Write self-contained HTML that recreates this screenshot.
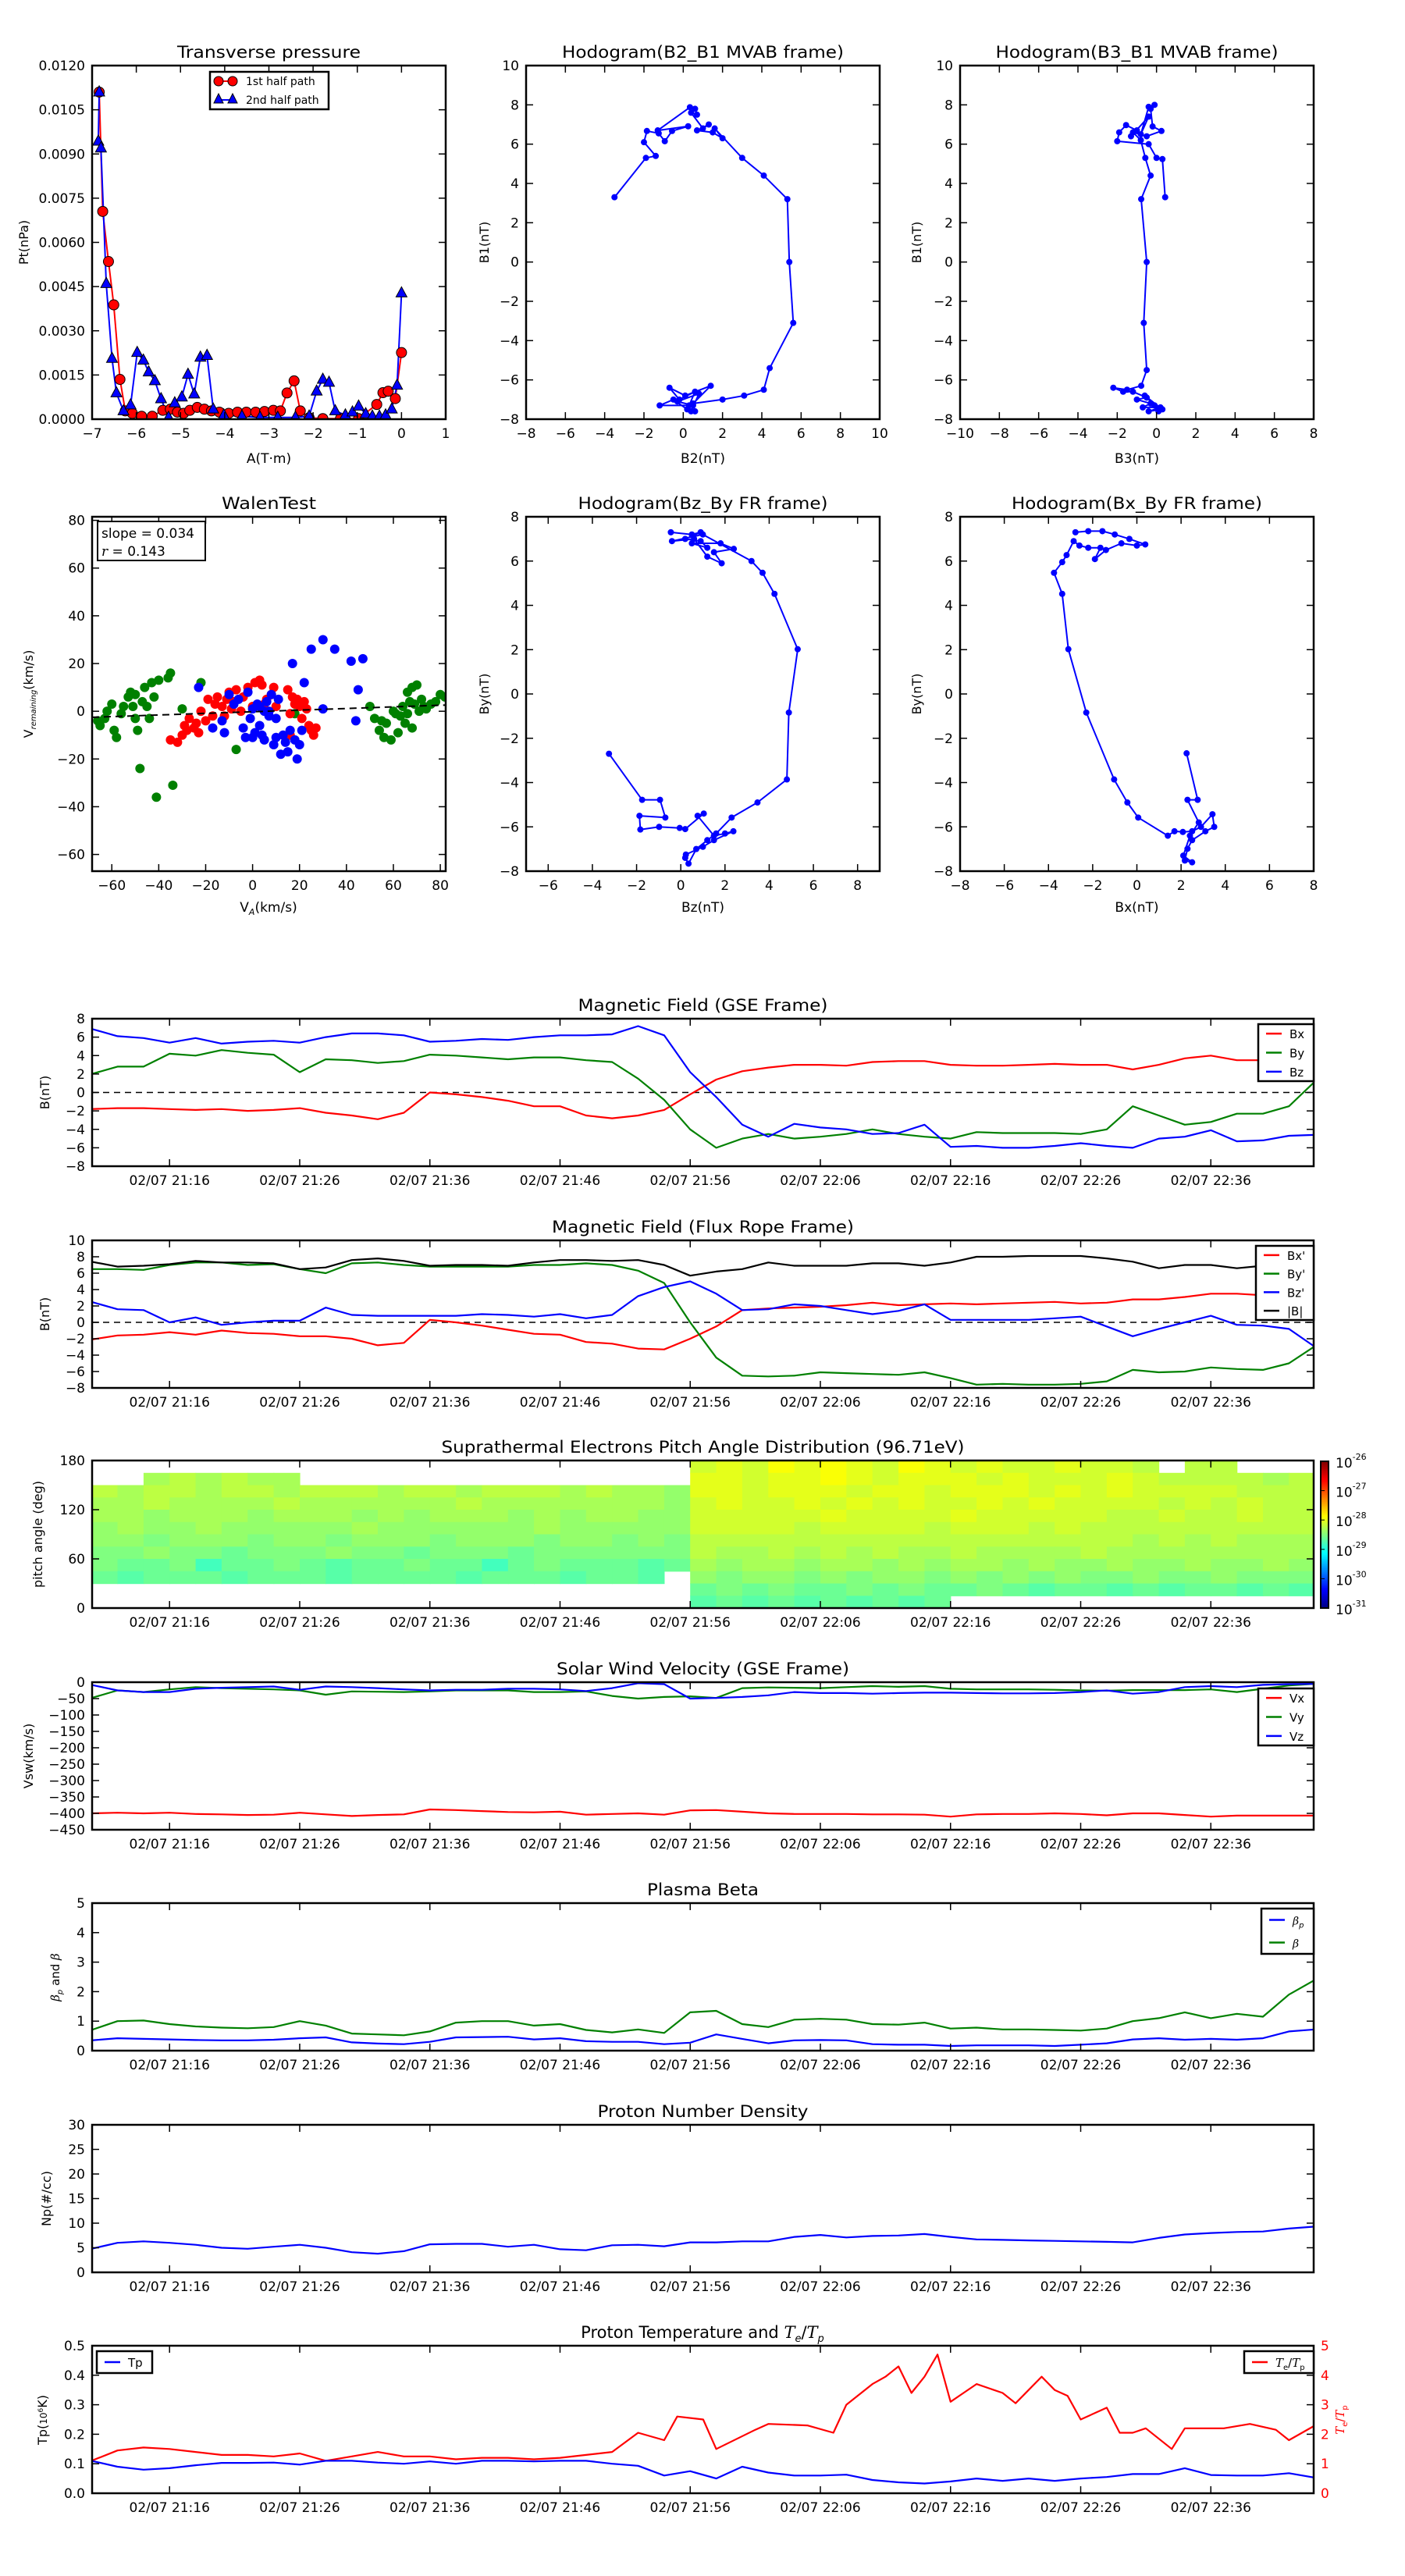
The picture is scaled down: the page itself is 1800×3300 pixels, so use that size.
<!DOCTYPE html>
<html><head><meta charset="utf-8"><title>Flux rope analysis</title>
<style>
html,body{margin:0;padding:0;background:#fff;}
svg{display:block;font-family:"DejaVu Sans","Liberation Sans",sans-serif;}
</style></head>
<body>
<svg id="fig" width="1800" height="3300" viewBox="0 0 1800 3300"></svg>
<script>
// ---------- DATA ----------
const pA1 = [-6.84,-6.76,-6.63,-6.51,-6.37,-6.25,-6.09,-5.88,-5.64,-5.4,-5.23,-5.07,-4.93,-4.79,-4.62,-4.46,-4.3,-4.12,-3.91,-3.71,-3.51,-3.3,-3.1,-2.9,-2.74,-2.59,-2.43,-2.29,-2.09,-1.78,-1.38,-0.97,-0.56,-0.42,-0.3,-0.14,0.0];
const pP1 = [0.0111,0.00705,0.00535,0.00388,0.00135,0.00028,0.0002,0.0001,0.0001,0.0003,0.00034,0.00024,0.0002,0.0003,0.0004,0.00034,0.00028,0.00024,0.0002,0.00024,0.00024,0.00024,0.00026,0.0003,0.00028,0.00089,0.0013,0.00028,0.00005,0.00002,0.00002,0.00002,0.0005,0.0009,0.00095,0.0007,0.00226];
const pA2 = [-6.84,-6.86,-6.8,-6.68,-6.55,-6.45,-6.29,-6.13,-5.98,-5.84,-5.72,-5.58,-5.44,-5.27,-5.13,-4.97,-4.83,-4.69,-4.55,-4.4,-4.26,-4.02,-3.61,-3.2,-2.8,-2.4,-2.09,-1.92,-1.78,-1.64,-1.5,-1.27,-1.11,-0.97,-0.81,-0.66,-0.5,-0.36,-0.22,-0.1,0.0];
const pP2 = [0.0111,0.00943,0.0092,0.0046,0.00206,0.00089,0.00028,0.00048,0.00226,0.002,0.0016,0.0013,0.00069,0.00006,0.00055,0.00075,0.00152,0.00085,0.0021,0.00216,0.00034,0.00014,0.0001,0.00006,0.00006,0.00006,0.0001,0.00095,0.00135,0.00125,0.00028,0.00014,0.00024,0.00044,0.00018,0.0001,0.0001,0.00014,0.00034,0.00115,0.00428];
const hB2 = [-3.5,-1.9,-1.4,-2.0,-1.85,-1.25,-0.94,-0.57,0.25,-1.3,0.34,0.6,0.7,0.4,1.0,1.3,0.7,1.5,2.0,1.6,3.0,4.1,5.3,5.4,5.6,4.4,4.1,3.1,2.0,0.5,1.4,0.1,-0.7,-0.2,0.6,0.3,-1.2,-0.5,0.2,0.6,0.5,-0.3,0.8,0.4];
const hB1a = [3.3,5.3,5.4,6.1,6.67,6.55,6.15,6.67,6.91,6.7,7.88,7.8,7.5,7.6,6.8,7.0,6.7,6.6,6.3,6.8,5.3,4.4,3.2,0.0,-3.1,-5.4,-6.5,-6.8,-7.0,-7.2,-6.3,-6.8,-6.4,-7.0,-6.6,-7.3,-7.3,-7.0,-7.5,-7.6,-7.3,-7.1,-6.7,-7.6];
const hB3 = [0.44,0.3,0.0,-0.4,-2.0,-1.9,-1.55,-1.0,-1.3,-0.4,-0.8,-0.4,-0.1,-0.3,-0.2,0.25,-0.5,-1.2,-0.8,-0.57,-0.3,-0.78,-0.5,-0.65,-0.5,-0.78,-1.5,-2.2,-1.7,-1.2,-0.5,-1.0,-0.3,-0.7,0.2,-0.4,0.3,-0.6,-0.1,0.1];
const hB1b = [3.3,5.24,5.3,6.0,6.15,6.6,6.97,6.7,6.4,7.4,6.5,7.9,8.0,7.8,6.9,6.67,6.4,6.6,6.2,5.3,4.4,3.2,0.0,-3.1,-5.5,-6.3,-6.5,-6.4,-6.6,-6.6,-6.9,-7.0,-7.2,-7.4,-7.4,-7.6,-7.5,-6.8,-7.3,-7.6];
const wGx = [-66,-65,-63,-62,-60,-59,-58,-56,-55,-53,-52,-51,-50,-50,-49,-48,-47,-46,-45,-44,-43,-42,-41,-40,-36,-35,-34,-30,-22,-7,18,50,52,54,55,56,57,59,60,61,62,63,64,65,66,66,67,68,68,69,70,71,72,73,74,76,78,80,82];
const wGy = [-4,-6,-3,0,3,-8,-11,-1,2,6,8,2,-3,7,-8,-24,4,10,2,-3,12,6,-36,13,14,16,-31,1,12,-16,-1,2,-3,-8,-4,-11,-5,-12,0,-1,-9,-2,2,-5,-1,8,4,-7,10,3,11,0,5,2,1,3,4,7,6];
const wRx = [-35,-32,-30,-29,-28,-27,-25,-24,-23,-22,-20,-19,-17,-16,-15,-13,-12,-11,-10,-9,-8,-7,-5,-4,-2,0,1,3,4,5,6,8,9,10,15,16,17,18,19,20,21,22,23,24,25,26,27,16];
const wRy = [-12,-13,-10,-6,-8,-3,-7,-5,-9,0,-4,5,-2,3,6,2,-2,5,8,1,4,9,0,6,10,2,12,13,11,3,5,7,10,2,9,-1,6,3,5,2,-3,4,1,-6,-8,-10,-7,-10];
const wBx = [-23,-17,-13,-12,-10,-8,-6,-4,-2,-1,0,1,2,3,4,5,6,7,8,9,10,11,12,13,14,15,16,17,18,19,20,21,22,25,30,35,42,44,45,47,30,10,5,-3,0,3,7];
const wBy = [10,-7,-4,-9,7,3,5,-7,8,-3,-11,-9,3,-6,-10,0,4,-2,7,-14,-3,5,-18,-10,-13,-17,-8,20,-12,-20,-14,-8,12,26,30,26,21,-4,9,22,1,-11,-12,-11,1,2,0];
const wSlope = [0.034];
const wIntercept = [-0.2];
const fBz = [-0.45,0.5,0.9,0.2,0.9,1.2,0.5,1.8,2.4,1.5,1.85,1.2,0.6,-0.4,1.0,3.2,3.7,4.24,5.29,4.89,4.8,3.47,2.3,1.6,1.2,0.7,0.35,0.2,0.23,1.0,1.5,2.38,2.0,1.5,0.76,1.04,0.2,-0.05,-0.98,-1.83,-1.87,-0.7,-0.94,-1.75,-3.25];
const fBy1 = [7.3,7.2,7.3,7.0,6.9,6.6,6.8,6.8,6.55,6.4,5.9,6.2,7.0,6.9,7.2,6.0,5.47,4.52,2.02,-0.84,-3.86,-4.9,-5.58,-6.3,-6.6,-7.0,-7.66,-7.4,-7.25,-6.9,-6.6,-6.2,-6.3,-6.4,-5.5,-5.4,-6.1,-6.05,-6.0,-6.12,-5.5,-5.58,-4.78,-4.78,-2.7];
const fBx = [-2.78,-2.2,-1.56,-1.0,-0.34,0.38,0.0,-0.7,-1.4,-1.9,-1.65,-2.2,-2.6,-2.86,-3.18,-3.38,-3.75,-3.38,-3.1,-2.29,-1.03,-0.43,0.06,1.4,1.7,2.08,2.5,2.9,3.42,3.5,3.1,2.5,2.29,2.17,2.5,2.1,2.4,2.8,2.29,2.75,2.25];
const fBy2 = [7.3,7.35,7.35,7.2,7.0,6.75,6.7,6.8,6.5,6.09,6.6,6.6,6.7,6.9,6.27,5.95,5.47,4.52,2.02,-0.84,-3.86,-4.9,-5.58,-6.4,-6.2,-6.23,-6.2,-6.0,-5.43,-6.0,-6.2,-6.6,-6.99,-7.52,-7.6,-7.3,-6.4,-5.8,-4.78,-4.78,-2.68];
const tGrid = [0,2,4,6,8,10,12,14,16,18,20,22,24,26,28,30,32,34,36,38,40,42,44,46,48,50,52,54,56,58,60,62,64,66,68,70,72,74,76,78,80,82,84,86,88,90,92,94];
const timeTicks = [6,16,26,36,46,56,66,76,86];
const timeLabels = ['02/07 21:16','02/07 21:26','02/07 21:36','02/07 21:46','02/07 21:56','02/07 22:06','02/07 22:16','02/07 22:26','02/07 22:36'];
const gseBx = [-1.8,-1.7,-1.7,-1.8,-1.9,-1.8,-2.0,-1.9,-1.7,-2.2,-2.5,-2.9,-2.2,0.0,-0.2,-0.5,-0.9,-1.5,-1.5,-2.5,-2.8,-2.5,-1.9,-0.2,1.4,2.3,2.7,3.0,3.0,2.9,3.3,3.4,3.4,3.0,2.9,2.9,3.0,3.1,3.0,3.0,2.5,3.0,3.7,4.0,3.5,3.5,3.2,1.3];
const gseBy = [2.0,2.8,2.8,4.2,4.0,4.6,4.3,4.1,2.2,3.6,3.5,3.2,3.4,4.1,4.0,3.8,3.6,3.8,3.8,3.5,3.3,1.5,-0.8,-4.0,-6.0,-5.0,-4.5,-5.0,-4.8,-4.5,-4.0,-4.5,-4.8,-5.0,-4.3,-4.4,-4.4,-4.4,-4.5,-4.0,-1.5,-2.5,-3.5,-3.2,-2.3,-2.3,-1.5,1.2];
const gseBz = [6.9,6.1,5.9,5.4,5.9,5.3,5.5,5.6,5.4,6.0,6.4,6.4,6.2,5.5,5.6,5.8,5.7,6.0,6.2,6.2,6.3,7.2,6.2,2.2,-0.5,-3.5,-4.8,-3.4,-3.8,-4.0,-4.5,-4.4,-3.5,-5.9,-5.8,-6.0,-6.0,-5.8,-5.5,-5.8,-6.0,-5.0,-4.8,-4.1,-5.3,-5.2,-4.7,-4.6];
const frBx = [-2.1,-1.6,-1.5,-1.2,-1.5,-1.0,-1.3,-1.4,-1.7,-1.7,-2.0,-2.8,-2.5,0.3,0.0,-0.4,-0.9,-1.4,-1.5,-2.4,-2.6,-3.2,-3.3,-2.0,-0.5,1.5,1.7,1.8,1.9,2.1,2.4,2.1,2.2,2.3,2.2,2.3,2.4,2.5,2.3,2.4,2.8,2.8,3.1,3.5,3.5,3.3,3.0,2.3];
const frBy = [6.5,6.5,6.4,7.0,7.3,7.3,7.0,7.1,6.5,6.0,7.2,7.3,7.0,6.8,6.8,6.8,6.8,7.0,7.0,7.2,7.0,6.3,4.8,0.0,-4.3,-6.5,-6.6,-6.5,-6.1,-6.2,-6.3,-6.4,-6.1,-6.8,-7.6,-7.5,-7.6,-7.6,-7.5,-7.2,-5.8,-6.1,-6.0,-5.5,-5.7,-5.8,-5.0,-2.9];
const frBz = [2.5,1.6,1.5,0.0,0.6,-0.3,0.0,0.2,0.2,1.8,0.9,0.8,0.8,0.8,0.8,1.0,0.9,0.7,1.0,0.5,0.9,3.2,4.3,5.0,3.5,1.5,1.6,2.2,2.0,1.5,1.0,1.4,2.2,0.3,0.3,0.3,0.3,0.5,0.7,-0.5,-1.7,-0.8,0.0,0.8,-0.3,-0.4,-0.8,-3.0];
const frBt = [7.4,6.8,6.9,7.1,7.5,7.3,7.3,7.2,6.5,6.7,7.6,7.8,7.5,6.9,7.0,7.0,6.9,7.3,7.6,7.6,7.5,7.6,7.0,5.7,6.2,6.5,7.3,6.9,6.9,6.9,7.2,7.2,6.9,7.3,8.0,8.0,8.1,8.1,8.1,7.8,7.4,6.6,7.0,7.0,6.6,6.9,7.0,5.0];
const vswX = [-400,-398,-400,-398,-402,-403,-405,-404,-398,-403,-408,-405,-403,-388,-390,-393,-396,-397,-395,-404,-402,-400,-404,-391,-390,-395,-400,-402,-402,-402,-403,-403,-404,-410,-403,-402,-402,-400,-402,-406,-400,-400,-405,-410,-407,-407,-407,-407];
const vswY = [-48,-25,-30,-22,-15,-18,-20,-22,-25,-38,-28,-29,-30,-28,-25,-25,-25,-30,-30,-28,-42,-50,-45,-43,-48,-18,-16,-17,-18,-15,-12,-14,-12,-20,-22,-22,-22,-23,-25,-26,-24,-24,-24,-22,-30,-20,-10,-5];
const vswZ = [-8,-25,-30,-30,-20,-17,-15,-13,-23,-13,-15,-18,-22,-25,-23,-23,-20,-20,-22,-27,-18,-3,-6,-50,-48,-45,-40,-30,-33,-33,-35,-33,-32,-32,-33,-34,-34,-33,-30,-25,-35,-30,-15,-12,-15,-8,-6,-5];
const betaP = [0.35,0.42,0.40,0.38,0.36,0.35,0.35,0.37,0.42,0.45,0.28,0.24,0.22,0.30,0.45,0.46,0.47,0.38,0.42,0.32,0.30,0.30,0.22,0.27,0.55,0.40,0.25,0.35,0.36,0.35,0.22,0.20,0.20,0.16,0.18,0.18,0.18,0.16,0.20,0.25,0.38,0.42,0.37,0.40,0.37,0.42,0.65,0.72];
const betaT = [0.7,1.0,1.02,0.9,0.82,0.78,0.76,0.8,1.0,0.85,0.58,0.55,0.52,0.65,0.95,1.0,1.0,0.85,0.9,0.7,0.62,0.72,0.6,1.3,1.35,0.9,0.8,1.05,1.08,1.05,0.9,0.88,0.95,0.75,0.78,0.72,0.72,0.70,0.68,0.75,1.0,1.1,1.3,1.1,1.25,1.15,1.9,2.4];
const np = [4.8,6.0,6.3,6.0,5.6,5.0,4.8,5.2,5.6,5.0,4.1,3.8,4.3,5.7,5.8,5.8,5.2,5.6,4.7,4.5,5.5,5.6,5.3,6.1,6.1,6.3,6.3,7.2,7.6,7.1,7.4,7.5,7.8,7.2,6.7,6.6,6.5,6.4,6.3,6.2,6.1,7.0,7.7,8.0,8.2,8.3,8.9,9.3];
const tp = [0.11,0.09,0.08,0.085,0.095,0.103,0.103,0.104,0.097,0.11,0.11,0.104,0.1,0.108,0.1,0.11,0.11,0.108,0.11,0.11,0.1,0.093,0.06,0.075,0.05,0.09,0.07,0.06,0.06,0.063,0.045,0.037,0.033,0.04,0.05,0.042,0.05,0.042,0.05,0.055,0.065,0.065,0.085,0.062,0.06,0.06,0.068,0.053];
const teTpTime = [0,2,4,6,8,10,12,14,16,18,20,22,24,26,28,30,32,34,36,38,40,42,44,45,47,48,51,52,55,57,58,60,61,62,63,64,65,66,67,68,70,71,73,74,75,76,78,79,80,81,83,84,87,89,91,92,94];
const teTp = [1.1,1.45,1.55,1.5,1.4,1.3,1.3,1.25,1.35,1.1,1.25,1.4,1.25,1.25,1.15,1.2,1.2,1.15,1.2,1.3,1.4,2.05,1.8,2.6,2.5,1.5,2.15,2.35,2.3,2.05,3.0,3.7,3.95,4.3,3.4,3.95,4.7,3.1,3.4,3.7,3.4,3.05,3.95,3.5,3.3,2.5,2.9,2.05,2.05,2.2,1.5,2.2,2.2,2.35,2.15,1.8,2.3];
const N = null;
const padRow0 = [N,N,N,N,N,N,N,N,N,N,N,N,N,N,N,N,N,N,N,N,N,N,N,-28.1,-28.0,-28.1,-27.9,-28.0,-27.9,-28.0,-28.1,-27.9,-28.0,-28.1,-28.0,-28.1,-28.1,-28.0,-28.1,-28.1,-28.2,N,-28.2,-28.2,N,N,N];
const padRow1 = [N,N,-28.3,-28.2,-28.3,-28.2,-28.3,-28.3,N,N,N,N,N,N,N,N,N,N,N,N,N,N,N,-28.0,-28.0,-28.1,-28.0,-28.0,-27.9,-28.0,-28.1,-28.0,-28.0,-28.0,-28.1,-28.0,-28.1,-28.1,-28.1,-28.0,-28.1,-28.2,-28.2,-28.2,-28.2,-28.3,-28.2];
const padRow2 = [-28.2,-28.3,-28.2,-28.2,-28.3,-28.2,-28.2,-28.3,-28.2,-28.2,-28.2,-28.3,-28.2,-28.2,-28.3,-28.2,-28.2,-28.2,-28.3,-28.2,-28.3,-28.3,-28.4,-28.0,-28.0,-28.1,-28.0,-28.0,-28.0,-28.1,-28.0,-28.0,-28.1,-28.0,-28.0,-28.0,-28.1,-28.0,-28.1,-28.0,-28.1,-28.1,-28.1,-28.1,-28.2,-28.2,-28.2];
const padRow3 = [-28.3,-28.3,-28.2,-28.3,-28.3,-28.3,-28.3,-28.2,-28.3,-28.3,-28.3,-28.3,-28.3,-28.3,-28.2,-28.3,-28.3,-28.3,-28.3,-28.3,-28.3,-28.3,-28.4,-28.1,-28.0,-28.1,-28.1,-28.0,-28.1,-28.0,-28.1,-28.0,-28.1,-28.1,-28.0,-28.1,-28.0,-28.1,-28.1,-28.1,-28.1,-28.2,-28.1,-28.2,-28.1,-28.2,-28.2];
const padRow4 = [-28.3,-28.3,-28.4,-28.3,-28.3,-28.3,-28.4,-28.3,-28.3,-28.3,-28.4,-28.3,-28.4,-28.3,-28.3,-28.3,-28.4,-28.3,-28.4,-28.3,-28.3,-28.4,-28.4,-28.1,-28.1,-28.1,-28.1,-28.1,-28.0,-28.1,-28.1,-28.1,-28.1,-28.0,-28.1,-28.1,-28.1,-28.1,-28.1,-28.2,-28.2,-28.1,-28.2,-28.2,-28.1,-28.2,-28.2];
const padRow5 = [-28.4,-28.3,-28.4,-28.4,-28.3,-28.4,-28.4,-28.4,-28.4,-28.4,-28.3,-28.4,-28.4,-28.4,-28.4,-28.4,-28.4,-28.3,-28.4,-28.4,-28.4,-28.4,-28.4,-28.1,-28.1,-28.1,-28.1,-28.2,-28.1,-28.1,-28.1,-28.1,-28.2,-28.1,-28.1,-28.1,-28.2,-28.1,-28.2,-28.2,-28.2,-28.2,-28.2,-28.2,-28.2,-28.2,-28.2];
const padRow6 = [-28.4,-28.4,-28.5,-28.4,-28.4,-28.4,-28.5,-28.4,-28.4,-28.5,-28.4,-28.4,-28.4,-28.5,-28.4,-28.4,-28.4,-28.5,-28.4,-28.4,-28.5,-28.4,-28.5,-28.2,-28.2,-28.2,-28.2,-28.2,-28.2,-28.2,-28.2,-28.2,-28.2,-28.2,-28.2,-28.2,-28.2,-28.2,-28.2,-28.2,-28.3,-28.2,-28.3,-28.2,-28.3,-28.3,-28.3];
const padRow7 = [-28.5,-28.5,-28.4,-28.5,-28.5,-28.6,-28.5,-28.5,-28.5,-28.4,-28.5,-28.5,-28.6,-28.5,-28.5,-28.5,-28.6,-28.5,-28.5,-28.5,-28.5,-28.5,-28.5,-28.2,-28.3,-28.3,-28.2,-28.3,-28.2,-28.3,-28.2,-28.3,-28.3,-28.2,-28.3,-28.3,-28.3,-28.3,-28.2,-28.3,-28.3,-28.3,-28.3,-28.3,-28.3,-28.3,-28.3];
const padRow8 = [-28.5,-28.6,-28.6,-28.5,-28.8,-28.6,-28.6,-28.5,-28.6,-28.7,-28.6,-28.6,-28.5,-28.6,-28.6,-28.8,-28.6,-28.5,-28.6,-28.6,-28.6,-28.7,-28.6,-28.3,-28.4,-28.3,-28.3,-28.4,-28.3,-28.3,-28.4,-28.3,-28.4,-28.3,-28.3,-28.4,-28.3,-28.4,-28.4,-28.3,-28.4,-28.4,-28.3,-28.4,-28.4,-28.3,-28.4];
const padRow9 = [-28.6,-28.7,-28.6,-28.6,-28.6,-28.7,-28.6,-28.6,-28.6,-28.7,-28.6,-28.6,-28.6,-28.6,-28.7,-28.6,-28.6,-28.6,-28.7,-28.6,-28.6,-28.7,N,-28.4,-28.5,-28.4,-28.4,-28.5,-28.4,-28.5,-28.4,-28.4,-28.5,-28.4,-28.5,-28.4,-28.5,-28.4,-28.5,-28.5,-28.4,-28.5,-28.5,-28.4,-28.5,-28.5,-28.5];
const padRow10 = [N,N,N,N,N,N,N,N,N,N,N,N,N,N,N,N,N,N,N,N,N,N,N,-28.6,-28.5,-28.6,-28.5,-28.6,-28.6,-28.5,-28.6,-28.5,-28.6,-28.6,-28.5,-28.6,-28.7,-28.6,-28.6,-28.7,-28.6,-28.7,-28.6,-28.6,-28.7,-28.6,-28.7];
const padRow11 = [N,N,N,N,N,N,N,N,N,N,N,N,N,N,N,N,N,N,N,N,N,N,N,-28.7,-28.6,-28.7,-28.6,-28.7,-28.6,-28.7,-28.6,-28.7,-28.6,N,N,N,N,N,N,N,N,N,N,N,N,N,N];
const padRows = [padRow0,padRow1,padRow2,padRow3,padRow4,padRow5,padRow6,padRow7,padRow8,padRow9,padRow10,padRow11];
const padPitchLow = [165,150,135,120,105,90,75,60,45,30,15,0];

// ---------- DRAWING ----------
const NS = 'http://www.w3.org/2000/svg';
const fig = document.getElementById('fig');
let cid = 0;
function mk(tag, attrs, parent){const e=document.createElementNS(NS,tag);for(const k in attrs)e.setAttribute(k,attrs[k]);(parent||fig).appendChild(e);return e;}
function txt(s, attrs, parent){const e=mk('text',attrs,parent);e.textContent=s;return e;}
function jet(t){t=Math.max(0,Math.min(1,t));const c=v=>Math.round(255*Math.max(0,Math.min(1,v)));return `rgb(${c(1.5-Math.abs(4*t-3))},${c(1.5-Math.abs(4*t-2))},${c(1.5-Math.abs(4*t-1))})`;}

function makeAxes(o){
  const g=mk('g',{});
  
  
  const id='clip'+(cid++);
  const cp=mk('clipPath',{id:id},g);
  mk('rect',{x:o.x0,y:o.y0,width:o.x1-o.x0,height:o.y1-o.y0},cp);
  const plot=mk('g',{'clip-path':'url(#'+id+')'},g);
  
  
  const sx=v=>o.x0+(v-o.xd[0])/(o.xd[1]-o.xd[0])*(o.x1-o.x0);
  const sy=v=>o.y1-(v-o.yd[0])/(o.yd[1]-o.yd[0])*(o.y1-o.y0);
  const deco=mk('g',{},g);
  const fr=mk('rect',{x:o.x0,y:o.y0,width:o.x1-o.x0,height:o.y1-o.y0,fill:'none',stroke:'#000','stroke-width':2.5},deco);
  
  
  const fs=o.tfs||17;
  o.xt.forEach((v,i)=>{
    const x=sx(v);
    mk('line',{x1:x,y1:o.y1,x2:x,y2:o.y1-9,stroke:'#000','stroke-width':1.5},deco);
    mk('line',{x1:x,y1:o.y0,x2:x,y2:o.y0+9,stroke:'#000','stroke-width':1.5},deco);
    const t=txt(o.xl[i],{x:x,y:o.y1+24,'text-anchor':'middle','font-size':fs,fill:'#000'},deco);
    
    
  });
  o.yt.forEach((v,i)=>{
    const y=sy(v);
    mk('line',{x1:o.x0,y1:y,x2:o.x0+9,y2:y,stroke:'#000','stroke-width':1.5},deco);
    if(!o.noRight) mk('line',{x1:o.x1,y1:y,x2:o.x1-9,y2:y,stroke:'#000','stroke-width':1.5},deco);
    const t=txt(o.yl[i],{x:o.x0-9,y:y+6,'text-anchor':'end','font-size':fs,fill:'#000'},deco);
    
    
  });
  if(o.title){
    const t=txt(o.title,{x:(o.x0+o.x1)/2,y:o.y0-10,'text-anchor':'middle','font-size':21,textLength:o.tw,lengthAdjust:'spacingAndGlyphs'},deco);
    
    
  }
  if(o.xlab){
    const t=txt(o.xlab,{x:(o.x0+o.x1)/2,y:o.xly,'text-anchor':'middle','font-size':17},deco);
    
    
  }
  if(o.ylab){
    const yc=(o.y0+o.y1)/2;
    const t=txt(o.ylab,{x:o.ylx,y:yc,'text-anchor':'middle','font-size':16,transform:'rotate(-90 '+o.ylx+' '+yc+')'},deco);
    
    
  }
  return {sx,sy,plot,deco,o};
}
function range(a,b,s){const r=[];for(let v=a;v<=b+1e-9;v+=s)r.push(+v.toFixed(6));return r;}
function line(ax,xs,ys,color,name,w){
  const pts=xs.map((x,i)=>ax.sx(x).toFixed(1)+','+ax.sy(ys[i]).toFixed(1)).join(' ');
  const p=mk('polyline',{points:pts,fill:'none',stroke:color,'stroke-width':w||2.2,'stroke-linejoin':'round'},ax.plot);
  
  
  return p;
}
function dots(ax,xs,ys,color,r,name,stroke){
  const g=mk('g',{},ax.plot);
  
  
  xs.forEach((x,i)=>{
    const c=mk('circle',{cx:ax.sx(x),cy:ax.sy(ys[i]),r:r,fill:color,stroke:stroke||'none','stroke-width':1},g);
    
    
  });
}
function tris(ax,xs,ys,color,name){
  const g=mk('g',{},ax.plot);
  
  
  xs.forEach((x,i)=>{
    const cx=ax.sx(x),cy=ax.sy(ys[i]);
    const p=mk('polygon',{points:`${cx},${cy-8} ${cx-7},${cy+5} ${cx+7},${cy+5}`,fill:color,stroke:'#000','stroke-width':1},g);
    
    
  });
}
function legend(x,y,w,h,entries,name,fs){
  const g=mk('g',{});
  
  
  mk('rect',{x:x,y:y,width:w,height:h,fill:'#fff',stroke:'#000','stroke-width':2.5},g);
  entries.forEach((e,i)=>{
    const yy=y+(h/entries.length)*(i+0.5);
    const ln=mk('line',{x1:x+10,y1:yy,x2:x+30,y2:yy,stroke:e.c,'stroke-width':2.5},g);
    
    
    const t=txt('',{x:x+40,y:yy+6,'font-size':fs||15,fill:'#000'},g);
    
    
    e.label(t);
  });
  return g;
}
function plain(s){return t=>{t.textContent=s;};}
function ts(parent,s,attrs){const e=mk('tspan',attrs||{},parent);e.textContent=s;return e;}
function neg(v){return v<0?'\u2212'+(-v):String(v);}

// ===== Transverse pressure =====
(function(){
  const yt=range(0,0.012,0.0015);
  const ax=makeAxes({name:'transverse-pressure-chart',x0:118,x1:571,y0:84,y1:537,xd:[-7,1],yd:[0,0.012],
    xt:range(-7,1,1),xl:range(-7,1,1).map(neg),yt:yt,yl:yt.map(v=>v.toFixed(4)),
    title:'Transverse pressure',tw:235,xlab:'A(T\u00b7m)',xly:593,ylab:'Pt(nPa)',ylx:36});
  line(ax,pA1,pP1,'#f00','first-half-path-line',2);
  line(ax,pA2,pP2,'#00f','second-half-path-line',2);
  dots(ax,pA1,pP1,'#f00',6.5,'first-half-path-markers','#000');
  tris(ax,pA2,pP2,'#00f','second-half-path-markers');
  const g=mk('g',{});
  
  
  mk('rect',{x:269,y:92,width:152,height:48,fill:'#fff',stroke:'#000','stroke-width':2.5},g);
  mk('line',{x1:280,y1:104,x2:298,y2:104,stroke:'#f00','stroke-width':2},g);
  mk('circle',{cx:280,cy:104,r:6,fill:'#f00',stroke:'#000'},g);
  mk('circle',{cx:298,cy:104,r:6,fill:'#f00',stroke:'#000'},g);
  mk('line',{x1:280,y1:128,x2:298,y2:128,stroke:'#00f','stroke-width':2},g);
  mk('polygon',{points:'280,120 274,132 286,132',fill:'#00f',stroke:'#000'},g);
  mk('polygon',{points:'298,120 292,132 304,132',fill:'#00f',stroke:'#000'},g);
  const a=txt('1st half path',{x:315,y:109,'font-size':14},g);
  
  
  const b=txt('2nd half path',{x:315,y:133,'font-size':14},g);
  
  
})();
// ===== Hodogram B2_B1 =====
(function(){
  const ax=makeAxes({name:'hodogram-b2-b1-chart',x0:674,x1:1127,y0:84,y1:537,xd:[-8,10],yd:[-8,10],
    xt:range(-8,10,2),xl:range(-8,10,2).map(neg),yt:range(-8,10,2),yl:range(-8,10,2).map(neg),
    title:'Hodogram(B2_B1 MVAB frame)',tw:361,xlab:'B2(nT)',xly:593,ylab:'B1(nT)',ylx:626});
  line(ax,hB2,hB1a,'#00f','b2-b1-path',2);
  dots(ax,hB2,hB1a,'#00f',4,'b2-b1-points');
})();
// ===== Hodogram B3_B1 =====
(function(){
  const ax=makeAxes({name:'hodogram-b3-b1-chart',x0:1230,x1:1683,y0:84,y1:537,xd:[-10,8],yd:[-8,10],
    xt:range(-10,8,2),xl:range(-10,8,2).map(neg),yt:range(-8,10,2),yl:range(-8,10,2).map(neg),
    title:'Hodogram(B3_B1 MVAB frame)',tw:362,xlab:'B3(nT)',xly:593,ylab:'B1(nT)',ylx:1180});
  line(ax,hB3,hB1b,'#00f','b3-b1-path',2);
  dots(ax,hB3,hB1b,'#00f',4,'b3-b1-points');
})();
// ===== Walen test =====
(function(){
  const ax=makeAxes({name:'walen-test-chart',x0:118,x1:571,y0:662,y1:1116,xd:[-68.4,82.3],yd:[-67,81.5],
    xt:range(-60,80,20),xl:range(-60,80,20).map(neg),yt:range(-60,80,20),yl:range(-60,80,20).map(neg),
    title:'WalenTest',tw:121});
  dots(ax,wGx,wGy,'#008000',6,'walen-green-points');
  dots(ax,wRx,wRy,'#f00',6,'walen-red-points');
  dots(ax,wBx,wBy,'#00f',6,'walen-blue-points');
  const fx=[-68.4,82.3];
  const fit=mk('line',{x1:ax.sx(fx[0]),y1:ax.sy(wSlope[0]*fx[0]+wIntercept[0]),x2:ax.sx(fx[1]),y2:ax.sy(wSlope[0]*fx[1]+wIntercept[0]),stroke:'#000','stroke-width':2,'stroke-dasharray':'9,6'},ax.plot);
  
  
  const g=mk('g',{});
  
  
  mk('rect',{x:125,y:668,width:138,height:50,fill:'#fff',stroke:'#000','stroke-width':2},g);
  txt('slope = 0.034',{x:130,y:689,'font-size':17},g);
  const r=txt('',{x:130,y:712,'font-size':17},g);
  ts(r,'r',{'font-style':'italic','font-family':'DejaVu Serif, serif'}); ts(r,' = 0.143');
  const xl=txt('',{x:344,y:1168,'text-anchor':'middle','font-size':17});
  
  
  ts(xl,'V'); ts(xl,'A',{'font-size':11,'font-style':'italic',dy:4}); ts(xl,'(km/s)',{dy:-4});
  const yl=txt('',{x:0,y:0,'text-anchor':'middle','font-size':16,transform:'translate(42 889) rotate(-90)'});
  
  
  ts(yl,'V'); ts(yl,'remaining',{'font-size':10,'font-style':'italic',dy:4}); ts(yl,'(km/s)',{dy:-4});
})();
// ===== Hodogram Bz_By FR =====
(function(){
  const ax=makeAxes({name:'hodogram-bz-by-chart',x0:674,x1:1127,y0:662,y1:1116,xd:[-7,9],yd:[-8,8],
    xt:range(-6,8,2),xl:range(-6,8,2).map(neg),yt:range(-8,8,2),yl:range(-8,8,2).map(neg),
    title:'Hodogram(Bz_By FR frame)',tw:320,xlab:'Bz(nT)',xly:1168,ylab:'By(nT)',ylx:626});
  line(ax,fBz,fBy1,'#00f','bz-by-path',2);
  dots(ax,fBz,fBy1,'#00f',4,'bz-by-points');
})();
// ===== Hodogram Bx_By FR =====
(function(){
  const ax=makeAxes({name:'hodogram-bx-by-chart',x0:1230,x1:1683,y0:662,y1:1116,xd:[-8,8],yd:[-8,8],
    xt:range(-8,8,2),xl:range(-8,8,2).map(neg),yt:range(-8,8,2),yl:range(-8,8,2).map(neg),
    title:'Hodogram(Bx_By FR frame)',tw:321,xlab:'Bx(nT)',xly:1168,ylab:'By(nT)',ylx:1180});
  line(ax,fBx,fBy2,'#00f','bx-by-path',2);
  dots(ax,fBx,fBy2,'#00f',4,'bx-by-points');
})();

// ===== Time series panels =====
const TX0=118, TX1=1683, TD=[0.05,93.9];
function tsAxes(name,top,yd,yt,yl,title,tw,ylab,ylx,extra){
  const o=Object.assign({name:name,x0:TX0,x1:TX1,y0:top,y1:top+189,xd:TD,yd:yd,xt:timeTicks,xl:timeLabels,yt:yt,yl:yl,title:title,tw:tw,ylab:ylab,ylx:ylx},extra||{});
  return makeAxes(o);
}
function zeroLine(ax){
  const l=mk('line',{x1:TX0,x2:TX1,y1:ax.sy(0),y2:ax.sy(0),stroke:'#000','stroke-width':1.5,'stroke-dasharray':'8,6'},ax.plot);
  
  
}
(function(){
  const ax=tsAxes('magnetic-field-gse-chart',1305,[-8,8],range(-8,8,2),range(-8,8,2).map(neg),'Magnetic Field (GSE Frame)',320,'B(nT)',63);
  zeroLine(ax);
  line(ax,tGrid,gseBx,'#f00','bx-line');
  line(ax,tGrid,gseBy,'#008000','by-line');
  line(ax,tGrid,gseBz,'#00f','bz-line');
  legend(1612,1312,71,73,[{c:'#f00',label:plain('Bx')},{c:'#008000',label:plain('By')},{c:'#00f',label:plain('Bz')}],'gse-legend');
})();
(function(){
  const ax=tsAxes('magnetic-field-flux-rope-chart',1589,[-8,10],range(-8,10,2),range(-8,10,2).map(neg),'Magnetic Field (Flux Rope Frame)',387,'B(nT)',63);
  zeroLine(ax);
  line(ax,tGrid,frBx,'#f00','bx-prime-line');
  line(ax,tGrid,frBy,'#008000','by-prime-line');
  line(ax,tGrid,frBz,'#00f','bz-prime-line');
  line(ax,tGrid,frBt,'#000','btotal-line');
  legend(1609,1596,74,95,[{c:'#f00',label:plain("Bx'")},{c:'#008000',label:plain("By'")},{c:'#00f',label:plain("Bz'")},{c:'#000',label:plain('|B|')}],'flux-rope-legend');
})();
(function(){
  const ax=tsAxes('pitch-angle-distribution-chart',1871,[0,180],[0,60,120,180],['0','60','120','180'],'Suprathermal Electrons Pitch Angle Distribution (96.71eV)',670,'pitch angle (deg)',54);
  const g=mk('g',{},ax.plot);
  
  
  padRows.forEach((row,ri)=>{
    const p=padPitchLow[ri];
    row.forEach((v,ci)=>{
      if(v===null) return;
      const xa=ax.sx(ci*2), xb=ax.sx(ci*2+2), ya=ax.sy(p+15), yb=ax.sy(p);
      const r=mk('rect',{x:xa.toFixed(1),y:ya.toFixed(1),width:(xb-xa+0.6).toFixed(1),height:(yb-ya+0.6).toFixed(1),fill:jet((v+31)/5)},g);
      
      
    });
  });
  const cb=mk('g',{});
  
  
  const cy0=1872, cy1=2060, n=80;
  for(let i=0;i<n;i++){
    mk('rect',{x:1692,y:cy1-(i+1)*(cy1-cy0)/n,width:10,height:(cy1-cy0)/n+0.5,fill:jet((i+0.5)/n)},cb);
  }
  mk('rect',{x:1692,y:cy0,width:10,height:cy1-cy0,fill:'none',stroke:'#000','stroke-width':2},cb);
  const exps=['-31','-30','-29','-28','-27','-26'];
  exps.forEach((e,i)=>{
    const y=cy1-i*(cy1-cy0)/5;
    mk('line',{x1:1692,x2:1697,y1:y,y2:y,stroke:'#000'},cb);
    const t=txt('',{x:1711,y:y+8,'font-size':17},cb);
    
    
    ts(t,'10'); ts(t,e,{'font-size':11,dy:-10});
  });
})();
(function(){
  const ax=tsAxes('solar-wind-velocity-chart',2155,[-450,0],range(-450,0,50),range(-450,0,50).map(neg),'Solar Wind Velocity (GSE Frame)',375,'Vsw(km/s)',42);
  line(ax,tGrid,vswX,'#f00','vx-line');
  line(ax,tGrid,vswY,'#008000','vy-line');
  line(ax,tGrid,vswZ,'#00f','vz-line');
  legend(1612,2163,71,73,[{c:'#f00',label:plain('Vx')},{c:'#008000',label:plain('Vy')},{c:'#00f',label:plain('Vz')}],'velocity-legend');
})();
(function(){
  const ax=tsAxes('plasma-beta-chart',2438,[0,5],range(0,5,1),range(0,5,1).map(String),'Plasma Beta',143,'',0);
  line(ax,tGrid,betaP,'#00f','beta-p-line');
  line(ax,tGrid,betaT,'#008000','beta-line');
  legend(1616,2445,67,58,[{c:'#00f',label:t=>{ts(t,'\u03b2',{'font-style':'italic','font-family':'DejaVu Serif, serif'});ts(t,'p',{'font-size':10,dy:4,'font-style':'italic'});}},{c:'#008000',label:t=>{ts(t,'\u03b2',{'font-style':'italic','font-family':'DejaVu Serif, serif'});}}],'beta-legend',14);
  const yl=txt('',{x:0,y:0,'text-anchor':'middle','font-size':15,transform:'translate(76 2533) rotate(-90)'});
  
  
  ts(yl,'\u03b2',{'font-style':'italic','font-family':'DejaVu Serif, serif'}); ts(yl,'p',{'font-size':10,dy:4,'font-style':'italic'}); ts(yl,' and ',{dy:-4}); ts(yl,'\u03b2',{'font-style':'italic','font-family':'DejaVu Serif, serif'});
})();
(function(){
  const ax=tsAxes('proton-density-chart',2722,[0,30],range(0,30,5),range(0,30,5).map(String),'Proton Number Density',270,'Np(#/cc)',65);
  line(ax,tGrid,np,'#00f','np-line');
})();
(function(){
  const yt=range(0,0.5,0.1);
  const ax=tsAxes('proton-temperature-chart',3005,[0,0.5],yt,yt.map(v=>v.toFixed(1)),'',0,'',0,{noRight:true});
  const ax2={sx:ax.sx,sy:v=>3194-v/5*189,plot:ax.plot};
  line(ax2,teTpTime,teTp,'#f00','te-tp-line');
  line(ax,tGrid,tp,'#00f','tp-line');
  [0,1,2,3,4,5].forEach(v=>{
    const y=ax2.sy(v);
    mk('line',{x1:TX1,x2:TX1-9,y1:y,y2:y,stroke:'#000','stroke-width':1.5},ax.deco);
    const t=txt(String(v),{x:TX1+9,y:y+6,'font-size':17,fill:'#f00'},ax.deco);
    
    
  });
  const ti=txt('',{x:900,y:2995,'text-anchor':'middle','font-size':21});
  
  
  ts(ti,'Proton Temperature and '); ts(ti,'T',{'font-style':'italic','font-family':'DejaVu Serif, serif'}); ts(ti,'e',{'font-size':13,dy:5,'font-style':'italic'}); ts(ti,'/',{dy:-5}); ts(ti,'T',{'font-style':'italic','font-family':'DejaVu Serif, serif'}); ts(ti,'p',{'font-size':13,dy:5,'font-style':'italic'});
  const yl=txt('',{x:0,y:0,'text-anchor':'middle','font-size':16,transform:'translate(60 3100) rotate(-90)'});
  
  
  ts(yl,'Tp('); ts(yl,'10',{'font-size':12}); ts(yl,'6',{'font-size':9,dy:-5}); ts(yl,'K)',{dy:5});
  const yr=txt('',{x:0,y:0,'text-anchor':'middle','font-size':15,fill:'#f00',transform:'translate(1722 3100) rotate(-90)'});
  
  
  ts(yr,'T',{'font-style':'italic','font-family':'DejaVu Serif, serif'}); ts(yr,'e',{'font-size':10,dy:4}); ts(yr,'/',{dy:-4}); ts(yr,'T',{'font-style':'italic','font-family':'DejaVu Serif, serif'}); ts(yr,'p',{'font-size':10,dy:4});
  legend(124,3012,71,28,[{c:'#00f',label:plain('Tp')}],'tp-legend');
  legend(1594,3012,89,28,[{c:'#f00',label:t=>{ts(t,'T',{'font-style':'italic','font-family':'DejaVu Serif, serif'});ts(t,'e',{'font-size':10,dy:4});ts(t,'/',{dy:-4});ts(t,'T',{'font-style':'italic','font-family':'DejaVu Serif, serif'});ts(t,'p',{'font-size':10,dy:4});}}],'te-tp-legend');
})();
</script>
</body></html>
